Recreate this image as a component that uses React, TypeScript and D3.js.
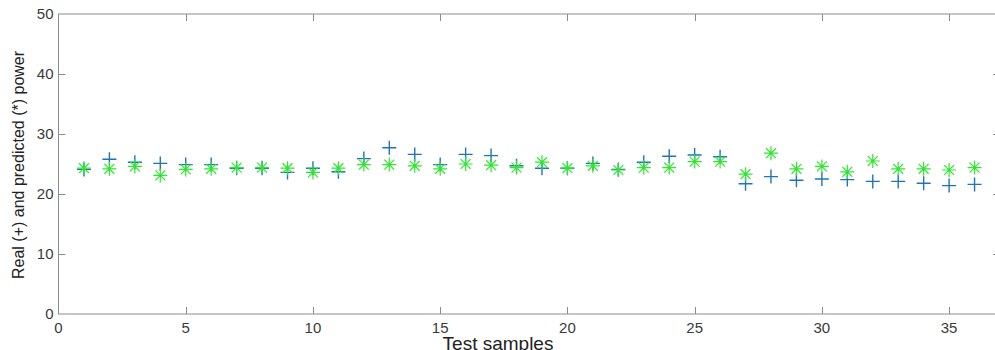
import { useEffect, useRef } from "react";
import * as d3 from "d3";

// test sample index
const samples = [
  1, 2, 3, 4, 5, 6, 7, 8, 9, 10, 11, 12, 13, 14, 15, 16, 17, 18,
  19, 20, 21, 22, 23, 24, 25, 26, 27, 28, 29, 30, 31, 32, 33, 34, 35, 36,
];

// real power (+)
const realPower = [
  24.1, 25.8, 25.3, 25.1, 24.9, 24.9, 24.3, 24.3, 23.6, 24.3, 23.7, 25.9,
  27.7, 26.6, 24.9, 26.6, 26.4, 24.7, 24.3, 24.3, 25.1, 24.1, 25.3, 26.3,
  26.5, 26.2, 21.7, 22.9, 22.3, 22.5, 22.4, 22.1, 22.1, 21.8, 21.4, 21.6,
];

// predicted power (*)
const predictedPower = [
  24.3, 24.2, 24.6, 23.1, 24.1, 24.2, 24.4, 24.4, 24.3, 23.6, 24.3, 24.9,
  24.9, 24.7, 24.2, 25.0, 24.8, 24.4, 25.3, 24.3, 24.7, 24.0, 24.4, 24.4,
  25.4, 25.4, 23.3, 26.8, 24.2, 24.6, 23.7, 25.5, 24.2, 24.2, 24.0, 24.4,
];

const xTicks = [0, 5, 10, 15, 20, 25, 30, 35];
const yTicks = [0, 10, 20, 30, 40, 50];

const W = 995;
const H = 350;
const FONT = "'Liberation Sans', Arial, sans-serif";

export default function App() {
  const svgRef = useRef<SVGSVGElement>(null);

  useEffect(() => {
    if (!svgRef.current) return;
    const svg = d3.select(svgRef.current);
    svg.selectAll("*").remove();

    const left = 58.5;
    const right = 1000;
    const top = 14;
    const bottom = 314;

    const x = d3.scaleLinear().domain([0, 37]).range([left, right]);
    const y = d3.scaleLinear().domain([0, 50]).range([bottom, top]);

    const axisColor = "#8c8c8c";
    const textColor = "#3a3a3a";
    const tickLen = 7;

    // box
    svg
      .append("rect")
      .attr("x", left)
      .attr("y", top)
      .attr("width", right - left)
      .attr("height", bottom - top)
      .attr("fill", "none")
      .attr("stroke", axisColor)
      .attr("stroke-width", 1);

    // x ticks (inward, top and bottom)
    const gx = svg.append("g");
    xTicks.forEach((t) => {
      const px = Math.round(x(t)) + 0.5;
      if (t !== 0) {
        gx.append("line")
          .attr("x1", px).attr("x2", px)
          .attr("y1", bottom).attr("y2", bottom - tickLen)
          .attr("stroke", axisColor);
        gx.append("line")
          .attr("x1", px).attr("x2", px)
          .attr("y1", top).attr("y2", top + tickLen)
          .attr("stroke", axisColor);
      }
      gx.append("text")
        .attr("x", x(t))
        .attr("y", bottom + 19)
        .attr("text-anchor", "middle")
        .attr("font-family", FONT)
        .attr("font-size", 15)
        .attr("fill", textColor)
        .text(t);
    });

    // y ticks (inward, left and right)
    const gy = svg.append("g");
    yTicks.forEach((t) => {
      const py = Math.round(y(t)) + 0.5;
      if (t !== 0 && t !== 50) {
        gy.append("line")
          .attr("x1", left).attr("x2", left + tickLen)
          .attr("y1", py).attr("y2", py)
          .attr("stroke", axisColor);
        gy.append("line")
          .attr("x1", right).attr("x2", right - tickLen)
          .attr("y1", py).attr("y2", py)
          .attr("stroke", axisColor);
      }
      gy.append("text")
        .attr("x", left - 5)
        .attr("y", y(t))
        .attr("dy", "0.36em")
        .attr("text-anchor", "end")
        .attr("font-family", FONT)
        .attr("font-size", 15)
        .attr("fill", textColor)
        .text(t);
    });

    // labels
    svg
      .append("text")
      .attr("transform", `translate(24,${(top + bottom) / 2 + 1}) rotate(-90)`)
      .attr("text-anchor", "middle")
      .attr("font-family", FONT)
      .attr("font-size", 16)
      .attr("fill", "#222")
      .text("Real (+) and predicted (*) power");

    svg
      .append("text")
      .attr("x", 498)
      .attr("y", 350)
      .attr("text-anchor", "middle")
      .attr("font-family", FONT)
      .attr("font-size", 19)
      .attr("fill", "#222")
      .text("Test samples");

    // real (+) markers
    const s = 7;
    svg
      .append("g")
      .selectAll("path")
      .data(samples)
      .join("path")
      .attr("d", (d, i) => {
        const cx = x(d);
        const cy = y(realPower[i]);
        return `M${cx - s},${cy}H${cx + s}M${cx},${cy - s}V${cy + s}`;
      })
      .attr("stroke", "#1f74b8")
      .attr("stroke-width", 1.4)
      .attr("fill", "none");

    // predicted (*) markers
    const r = 7;
    const r2 = r * Math.SQRT1_2;
    svg
      .append("g")
      .selectAll("path")
      .data(samples)
      .join("path")
      .attr("d", (d, i) => {
        const cx = x(d);
        const cy = y(predictedPower[i]);
        return (
          `M${cx - r},${cy}H${cx + r}M${cx},${cy - r}V${cy + r}` +
          `M${cx - r2},${cy - r2}L${cx + r2},${cy + r2}` +
          `M${cx - r2},${cy + r2}L${cx + r2},${cy - r2}`
        );
      })
      .attr("stroke", "#2ee82e")
      .attr("stroke-width", 1.2)
      .attr("fill", "none");
  }, []);

  return (
    <svg
      ref={svgRef}
      width={W}
      height={H}
      style={{ position: "absolute", left: 0, top: 0, background: "#fff" }}
    />
  );
}
